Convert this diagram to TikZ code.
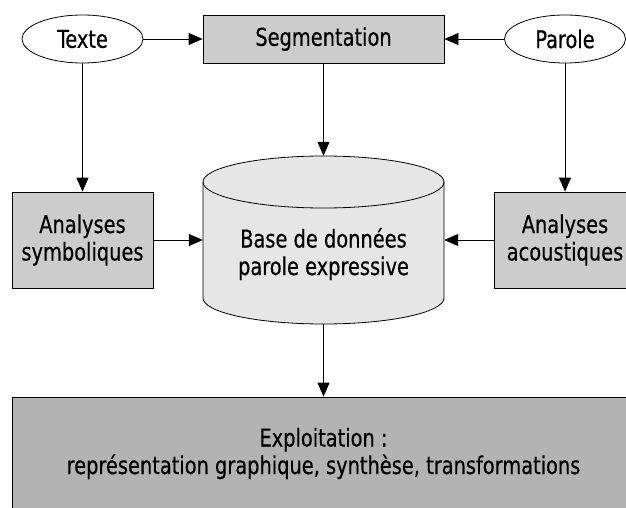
\documentclass[tikz,border=0pt]{standalone}
\usepackage{fontspec}
\setmainfont{DejaVu Sans Condensed}[FakeStretch=0.88,FakeBold=0.4]
\usetikzlibrary{shapes.geometric,arrows.meta}
\definecolor{boxgray}{HTML}{CCCCCC}
\definecolor{dbgray}{HTML}{E6E6E6}
\definecolor{darkgray}{HTML}{B3B3B3}
\begin{document}
\begin{tikzpicture}[x=1pt,y=1pt,
  every node/.style={font=\fontsize{24.5}{27.5}\selectfont, align=center, inner sep=0pt},
  oval/.style={ellipse, draw, line width=0.8pt, fill=white, minimum width=121pt, minimum height=48pt},
  graybox/.style={rectangle, draw, line width=0.8pt, fill=boxgray},
  conn/.style={line width=0.8pt, -{Triangle[length=14pt,width=12pt]}}]
\useasboundingbox (0,0) rectangle (626,507);
\clip (0,0) rectangle (626,507);
\node[oval] (texte) at (82.5,468) {Texte};
\node[graybox, minimum width=241pt, minimum height=48pt] (seg) at (323.5,468) {Segmentation};
\node[oval] (parole) at (565,468) {Parole};
\node[graybox, minimum width=141pt, minimum height=96pt] (symb) at (82.5,267) {Analyses\\symboliques};
\node[graybox, minimum width=142pt, minimum height=96pt] (acou) at (565,267) {Analyses\\acoustiques};
% cylinder
\node[minimum width=241pt, minimum height=168pt] (db) at (323.5,267) {};
\draw[line width=0.8pt, fill=dbgray]
  (203,325) -- (203,209) arc[start angle=180, end angle=360, x radius=120.5, y radius=26]
  -- (444,325) arc[start angle=0, end angle=180, x radius=120.5, y radius=26] -- cycle;
\draw[line width=0.8pt] (203,325) arc[start angle=180, end angle=360, x radius=120.5, y radius=26];
\node at (323.5,253) {Base de données\\parole expressive};
\node[rectangle, draw, line width=0.8pt, fill=darkgray, minimum width=623pt, minimum height=113pt] (expl) at (323.5,53.5) {Exploitation :\\représentation graphique, synthèse, transformations};
\draw[conn] (texte) -- (seg);
\draw[conn] (parole) -- (seg);
\draw[conn] (texte) -- (symb);
\draw[conn] (parole.south) -- (acou.north -| parole.south);
\draw[conn] (seg) -- (db.north);
\draw[conn] (symb) -- (db.west);
\draw[conn] (acou) -- (db.east);
\draw[conn] (db.south) -- (expl.north);
\end{tikzpicture}
\end{document}
